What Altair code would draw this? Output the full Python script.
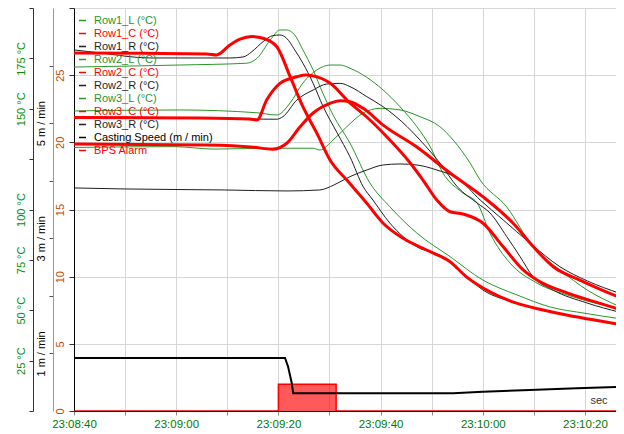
import altair as alt
import pandas as pd

# ---------------- data (seconds after 23:08:40, values) ----------------
series_names = ["Row1_L (°C)", "Row1_C (°C)", "Row1_R (°C)",
                "Row2_L (°C)", "Row2_C (°C)", "Row2_R (°C)",
                "Row3_L (°C)", "Row3_C (°C)", "Row3_R (°C)",
                "Casting Speed (m / min)", "BPS Alarm"]
series_colors = ["#2a962a", "#ff0000", "#1e1e1e",
                 "#2a962a", "#ff0000", "#1e1e1e",
                 "#2a962a", "#ff0000", "#1e1e1e",
                 "#000000", "#ff0000"]

row1_l_t = [0, 20.7, 33.8, 35.8, 38.4, 40.3, 41.6, 43.2, 44.8, 46.8, 48.7, 50.7, 54.0, 57.9, 61.8, 67.1, 73.6, 80.0, 86.7, 93.2, 100, 106.8]
row1_l_v = [170.7, 171.7, 172.6, 175.0, 184.1, 189.1, 189.1, 186.6, 179.2, 169.2, 157.7, 146.9, 133.0, 113.2, 101.4, 88.3, 76.6, 65.0, 57.6, 51.6, 48.5, 45.8]

row1_c_t = [0, 14, 26, 27.9, 30.5, 32.5, 34.8, 37.0, 39.7, 42.3, 44.8, 47.5, 50.1, 53.4, 57.3, 60.5, 64.4, 69.7, 73.6, 76.8, 81.4, 86.6, 91.8, 96.4, 101, 106.8]
row1_c_v = [177.7, 177.5, 177.2, 176.7, 181.6, 184.5, 185.8, 185.0, 180.8, 165.9, 151.0, 138.0, 124.6, 114.6, 103.1, 93.2, 85.7, 79.1, 74.1, 66.6, 59.2, 53.5, 50.1, 47.6, 45.5, 43.0]

row1_r_t = [0, 5.1, 14.9, 30.5, 33.1, 34.8, 37.0, 38.9, 40.3, 41.6, 43.2, 44.8, 46.8, 48.7, 51.5, 54.0, 56.6, 58.5, 61.8, 67.1, 72.2, 76.1, 80.0, 86.7, 91.8, 100, 106.8]
row1_r_v = [179.2, 177.7, 175.2, 175.2, 175.7, 178.3, 183.3, 186.3, 186.6, 185.0, 179.2, 172.6, 162.6, 151.4, 138.0, 126.2, 111.3, 104.7, 93.3, 81.5, 76.6, 68.5, 60.1, 53.6, 50.1, 46.0, 42.5]

row2_l_t = [0, 20.7, 35.8, 39.7, 42.3, 44.8, 47.5, 50.1, 52.1, 54.0, 60.5, 63.8, 67.1, 69.7, 72.2, 76.1, 78.9, 81.4, 85.3, 90.6, 97.1, 106.8]
row2_l_v = [148.9, 149.4, 148.0, 146.9, 152.9, 162.8, 169.2, 171.7, 171.7, 170.1, 159.3, 151.0, 141.1, 131.2, 118.1, 108.2, 103.2, 88.3, 73.5, 63.5, 57.1, 50.8]

row2_c_t = [0, 24.7, 34.4, 35.8, 37.7, 40.3, 43.6, 45.4, 46.8, 50.1, 54.0, 57.3, 60.5, 65.8, 68.3, 71.0, 73.6, 76.1, 80.0, 84.0, 87.9, 90.6, 96.5, 101.5, 106.8]
row2_c_v = [145.7, 145.4, 144.9, 144.4, 154.3, 162.6, 165.9, 166.8, 166.3, 162.8, 152.9, 145.9, 138.0, 123.1, 114.6, 104.7, 98.9, 97.8, 93.3, 81.5, 70.0, 65.0, 58.6, 54.5, 50.4]

row2_r_t = [0, 20, 39.7, 40.9, 43.6, 46.8, 49.5, 52.1, 54.0, 57.3, 60.5, 65.2, 67.7, 71.6, 75.0, 78.9, 81.4, 84.7, 87.3, 89.8, 93.7, 100.4, 106.8]
row2_r_v = [146.0, 145.6, 144.8, 146.1, 154.3, 159.3, 162.3, 162.6, 161.0, 156.0, 151.0, 141.1, 134.5, 123.1, 111.3, 103.2, 98.3, 86.5, 76.6, 66.7, 60.1, 53.6, 49.0]

row3_l_t = [0, 19.6, 27.4, 39.1, 46.8, 48.1, 50.7, 53.4, 56.6, 59.9, 63.8, 67.7, 71.6, 74.2, 77.5, 79.5, 84.7, 89.8, 95.1, 100.4, 106.8]
row3_l_v = [130.8, 131.2, 130.0, 130.4, 130.4, 129.5, 134.5, 141.1, 147.9, 150.2, 149.4, 146.1, 141.1, 134.5, 123.1, 114.6, 101.2, 81.5, 70.0, 60.1, 51.8]

row3_c_t = [0, 26, 35.2, 38.8, 41.7, 44.2, 46.8, 50.1, 52.1, 54.0, 56.6, 60.5, 67.1, 73.6, 80.0, 85.9, 89.9, 93.8, 99.0, 106.8]
row3_c_v = [132.5, 132.0, 130.9, 129.9, 133.0, 140.9, 147.9, 152.7, 154.0, 153.5, 150.2, 141.9, 131.0, 118.1, 106.4, 93.3, 81.5, 71.6, 65.0, 56.3]

row3_r_t = [0, 9.8, 29.4, 41.7, 48.1, 50.9, 54.0, 57.3, 60.5, 63.8, 67.1, 71.0, 75.0, 79.5, 84.0, 89.2, 95.1, 100.5, 106.8]
row3_r_v = [110.7, 110.2, 109.7, 109.2, 109.7, 112.2, 116.3, 119.6, 122.1, 122.6, 122.1, 119.6, 115.6, 104.7, 94.8, 83.4, 71.6, 64.5, 58.4]

speed_t = [0, 41.3, 41.9, 42.6, 42.9, 60, 74.2, 80.0, 89.2, 98.4, 106.8]
speed_v = [0.92, 0.92, 0.77, 0.49, 0.31, 0.31, 0.31, 0.335, 0.365, 0.395, 0.42]

alarm_t = [0, 40.0, 51.3, 106.8]
alarm_v = [0, 2.0, 0, 0]

deg_ticks = [0, 25, 50, 75, 100, 125, 150, 175, 200]
speed_ticks = [1, 2, 3, 4, 5, 6]
inner_ticks = [0, 5, 10, 15, 20, 25, 30]


def stamp(sec):
    total = (23 * 3600 + 8 * 60 + 40) * 1000 + int(round(sec * 1000))
    h = total // 3600000
    m = (total // 60000) % 60
    s = (total // 1000) % 60
    r = total % 1000
    return f"2024-01-01T{h:02d}:{m:02d}:{s:02d}.{r:03d}"


def frame(name, ts, vs, w):
    return pd.DataFrame({"time": [stamp(t) for t in ts], "value": vs,
                         "series": name, "w": w})


temp_specs = [
    ("Row1_L (°C)", row1_l_t, row1_l_v, 1), ("Row2_L (°C)", row2_l_t, row2_l_v, 1),
    ("Row3_L (°C)", row3_l_t, row3_l_v, 1), ("Row1_R (°C)", row1_r_t, row1_r_v, 1),
    ("Row2_R (°C)", row2_r_t, row2_r_v, 1), ("Row3_R (°C)", row3_r_t, row3_r_v, 1),
    ("Row1_C (°C)", row1_c_t, row1_c_v, 3), ("Row2_C (°C)", row2_c_t, row2_c_v, 3),
    ("Row3_C (°C)", row3_c_t, row3_c_v, 3),
]
df_temp = pd.concat([frame(*s) for s in temp_specs], ignore_index=True)
df_speed = frame("Casting Speed (m / min)", speed_t, speed_v, 2)
df_alarm = frame("BPS Alarm", alarm_t, alarm_v, 1.5)

FONT = "Liberation Sans"


def dt(m, s, ms=0):
    return alt.DateTime(year=2024, month=1, date=1, hours=23, minutes=m, seconds=s, milliseconds=ms)


x_values = [dt(8, 40), dt(8, 50), dt(9, 0), dt(9, 10), dt(9, 20), dt(9, 30),
            dt(9, 40), dt(9, 50), dt(10, 0), dt(10, 10), dt(10, 20)]

x_enc = alt.X("time:T",
              scale=alt.Scale(domain=[dt(8, 40), dt(10, 26, 70)]),
              axis=alt.Axis(values=x_values,
                            labelExpr="seconds(datum.value) % 20 == 0 ? timeFormat(datum.value, '%H:%M:%S') : ''",
                            grid=True, gridColor="#d6d6d6", domainColor="#000000",
                            tickColor="#888888", tickSize=4, labelColor="#007a00",
                            labelFontSize=11.5, labelFont=FONT, labelPadding=3,
                            labelFlush=False, labelOverlap=False,
                            title="sec", titleX=533, titleY=-11, titleAlign="right",
                            titleBaseline="middle", titleFontWeight="normal",
                            titleFontSize=11, titleColor="#333333", titleFont=FONT))

legend = alt.Legend(title=None, orient="none", legendX=3, legendY=7, symbolType="stroke",
                    symbolSize=49, symbolStrokeWidth=1.5, labelFont=FONT, labelFontSize=11,
                    rowPadding=1, labelOffset=6, padding=0,
                    labelColor=alt.ExprRef(expr="scale('color', datum.value)"))

color_enc = alt.Color("series:N", scale=alt.Scale(domain=series_names, range=series_colors),
                      legend=legend)

alarm = alt.Chart(df_alarm).mark_area(interpolate="step-after", fillOpacity=0.65, clip=True,
                                      line={"strokeWidth": 1.5}).encode(
    x=x_enc,
    y=alt.Y("value:Q", title=None,
            scale=alt.Scale(domain=[0, 30], nice=False),
            axis=alt.Axis(orient="left", offset=0, values=inner_ticks,
                          labelExpr="datum.value == 30 ? '' : datum.label",
                          grid=True, gridColor="#d6d6d6", domainColor="#000000",
                          tickColor="#333333", tickSize=5, labelAngle=270,
                          labelAlign="center", labelBaseline="bottom", labelPadding=4,
                          labelColor="#c04a00", labelFont=FONT, labelFontSize=11)),
    color=color_enc,
)

speed = alt.Chart(df_speed).mark_line(strokeWidth=2, clip=True).encode(
    x=x_enc,
    y=alt.Y("value:Q", title=None,
            scale=alt.Scale(domain=[0, 7], nice=False),
            axis=alt.Axis(orient="left", offset=21, values=speed_ticks,
                          labelExpr="datum.value % 2 == 1 ? datum.value + ' m / min' : ''",
                          grid=False, domainColor="#999999", tickColor="#555555",
                          tickSize=4, labelAngle=270, labelAlign="center",
                          labelBaseline="bottom", labelPadding=3, labelColor="#000000",
                          labelFont=FONT, labelFontSize=11)),
    color=color_enc,
)

temps = alt.Chart(df_temp).mark_line(interpolate="monotone", clip=True).encode(
    x=x_enc,
    y=alt.Y("value:Q", title=None,
            scale=alt.Scale(domain=[0, 200], nice=False),
            axis=alt.Axis(orient="left", offset=41, values=deg_ticks,
                          labelExpr="(datum.value == 0 || datum.value == 125 || datum.value == 200) ? '' : datum.value + ' °C'",
                          grid=False, domainColor="#333333", tickColor="#333333",
                          tickSize=4, labelAngle=270, labelAlign="center",
                          labelBaseline="bottom", labelPadding=3, labelColor="#009000",
                          labelFont=FONT, labelFontSize=11)),
    color=color_enc,
    strokeWidth=alt.StrokeWidth("w:Q", scale=None, legend=None),
    detail="series:N",
)

chart = alt.layer(alarm, speed, temps).resolve_scale(y="independent").properties(
    width=542, height=403, autosize="none",
    padding={"left": 66, "top": 0, "right": 0, "bottom": 22},
    background="white",
).configure_view(strokeWidth=0)

chart.save("out.html", embed_options={"renderer": "svg", "actions": False})
